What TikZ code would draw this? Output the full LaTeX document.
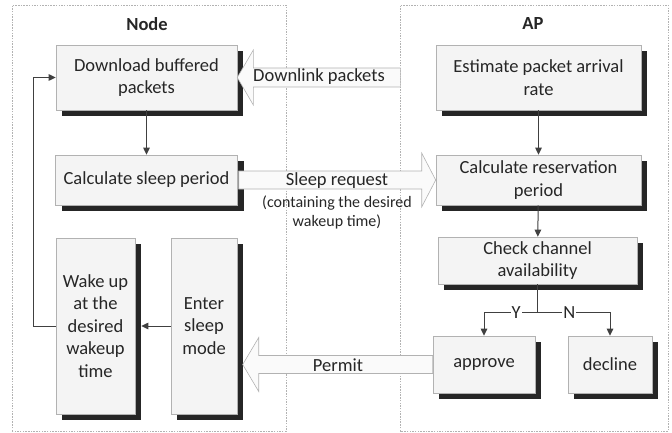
\documentclass[tikz,border=0pt]{standalone}
\usepackage{fontspec}
\setmainfont{Carlito}
\usetikzlibrary{arrows.meta,shadows}

\begin{document}
\begin{tikzpicture}[
    x=1pt, y=1pt,
    every node/.style={font=\fontsize{18.5}{22.5}\selectfont, text=black!85},
    box/.style={draw=gray!60, line width=0.6pt, fill=gray!9,
        align=center, inner sep=2pt,
        drop shadow={shadow xshift=6pt, shadow yshift=-6pt, fill=black!85, opacity=1}},
    side/.style={draw=gray!60, dash pattern=on 1.5pt off 1.2pt, line width=0.5pt},
    flow/.style={-{Triangle[length=7pt,width=6.5pt]}, draw=black!75, line width=1pt},
    fat/.style={draw=gray!60, line width=0.6pt, fill=gray!4},
    note/.style={font=\fontsize{16}{19}\selectfont, align=center},
    title/.style={font=\bfseries\fontsize{18.5}{22.5}\selectfont}
]
\useasboundingbox (0,0) rectangle (672,432);

\draw[side] (12,1) rectangle (286,427);
\draw[side] (400,1) rectangle (668,427);
\node[title] (nodetitle) at (147,408) {Node};
\node[title] (aptitle) at (533,408) {AP};

\node[box, minimum width=181, minimum height=65] (dl) at (146.5,354.5) {Download buffered\\packets};
\node[box, minimum width=182, minimum height=50, below of=dl, node distance=102.5pt] (calc) {Calculate sleep period};
\node[box, minimum width=66, minimum height=176] (enter) at (204,106) {Enter\\sleep\\mode};
\node[box, minimum width=79, minimum height=176, left of=enter, node distance=108.5pt] (wake) {Wake up\\at the\\desired\\wakeup\\time};

\node[box, minimum width=205, minimum height=65] (est) at (538.5,354.5) {Estimate packet arrival\\rate};
\node[box, minimum width=205, minimum height=50, below of=est, node distance=102.5pt] (res) {Calculate reservation\\period};
\node[box, minimum width=199, minimum height=47] (chk) at (537.5,171.5) {Check channel\\availability};
\node[box, minimum width=102, minimum height=57] (app) at (484,67.5) {approve};
\node[box, minimum width=84, minimum height=57] (dec) at (610,67.5) {decline};

\draw[fat] (dl.east) -- ++(16,27.5) -- ++(0,-18) -- ++(147,0) -- ++(0,-19)
    -- ++(-147,0) -- ++(0,-18) -- cycle;
\node (dltext) at (319,355) {Downlink packets};

\draw[fat] (res.west) -- ++(-14,27) -- ++(0,-18) -- ++(-183,0) -- ++(0,-18)
    -- ++(183,0) -- ++(0,-18) -- cycle;
\node (sreq) at (337,251) {Sleep request};
\node[note] (sreqnote) at (337,219.5) {(containing the desired\\wakeup time)};

\draw[fat] ([yshift=9pt]app.west) -- ++(-174,0) -- ++(0,18) -- ++(-16,-27) -- ++(16,-27)
    -- ++(0,18) -- ++(174,0) -- cycle;
\node (permit) at (338,67) {Permit};

\draw[flow] (dl) -- (calc);
\draw[flow] (est) -- (res);
\draw[flow] (res) -- (chk);
\coordinate (split) at ([yshift=-28.5pt]chk.south);
\draw[draw=black!75, line width=1pt] (chk.south) -- (split);
\draw[flow] (split) -| node[pos=0.2, fill=white, inner sep=1pt] (yes) {Y} (app.north);
\draw[flow] (split) -| node[pos=0.22, fill=white, inner sep=1pt] (no) {N} (dec.north);
\draw[flow] (enter.west) -- ([xshift=6pt]wake.east);
\draw[flow] (wake.west) -- ++(-22,0) |- (dl.west);
\end{tikzpicture}
\end{document}
